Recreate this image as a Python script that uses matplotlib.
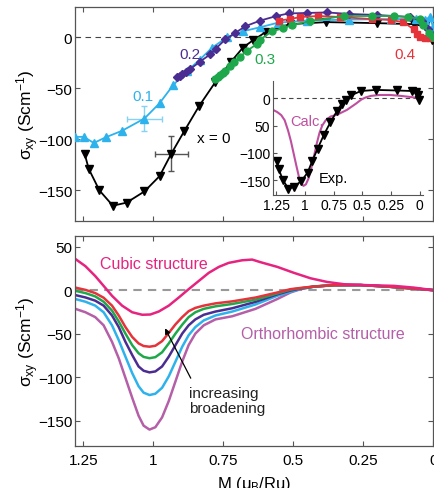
import matplotlib.pyplot as plt

plt.rcParams['font.family'] = ['Liberation Sans', 'DejaVu Sans']
plt.rcParams['mathtext.fontset'] = 'custom'
plt.rcParams['mathtext.rm'] = 'Liberation Sans'
plt.rcParams['mathtext.it'] = 'Liberation Sans:italic'

# ---- top panel: measured sigma_xy vs M for each doping x ----
m_x0 = [1.246, 1.231, 1.193, 1.145, 1.096, 1.032, 0.978, 0.936, 0.890, 0.836, 0.779,
        0.723, 0.68, 0.645, 0.60, 0.513, 0.382, 0.20, 0.07, 0.03, 0.015, 0.005]
s_x0 = [-114, -129, -150, -165, -162, -151, -136, -114, -92, -67, -44,
        -24, -10, -3, 5, 13, 15, 14, 13, 11, 6, -3]

m_x1 = [1.279, 1.249, 1.213, 1.171, 1.112, 1.032, 0.978, 0.930, 0.88, 0.835, 0.79,
        0.737, 0.68, 0.618, 0.554, 0.45, 0.30, 0.15, 0.06, 0.03, 0.012, 0.0]
s_x1 = [-97.5, -97.5, -103.5, -98, -91.5, -79.5, -64.5, -47, -33, -22, -10,
        0, 6, 10, 14.5, 16.5, 17.5, 18, 18, 17, 20, 10]

m_x2 = [0.916, 0.905, 0.898, 0.885, 0.868, 0.835, 0.796, 0.777, 0.743, 0.71, 0.671,
        0.618, 0.56, 0.517, 0.45, 0.38, 0.30, 0.20, 0.082, 0.04, 0.02, 0.005]
s_x2 = [-39, -38, -36, -34, -31, -24, -16.5, -11, -2, 4, 11,
        16.5, 21, 23.5, 24, 24.5, 23, 22, 20, 16, 8, 2]

m_x3 = [0.779, 0.770, 0.761, 0.752, 0.743, 0.725, 0.713, 0.69, 0.665, 0.63, 0.62, 0.576,
        0.535, 0.505, 0.44, 0.32, 0.22, 0.14, 0.089, 0.046, 0.035, 0.015, 0.0]
s_x3 = [-41, -39, -37, -35, -33, -28, -24, -19, -13, -6.5, -2.5, 6,
        9, 12, 16, 21, 21, 21, 20, 18, 12, 4, 0]

m_x4 = [0.552, 0.511, 0.475, 0.41, 0.332, 0.22, 0.15, 0.106, 0.07, 0.058, 0.046, 0.03, 0.01]
s_x4 = [16.5, 18, 20, 21, 20, 18, 17, 15, 8, 3, 0, -1, -1]

# error bars (one point on x=0.1 and x=0): M, sigma, dM, dsigma
err_x1 = (1.032, -79.5, 0.063, 12.5)
err_x0 = (0.936, -114, 0.058, 17)

# ---- bottom panel: calculated curves ----
m_calc = [1.279, 1.243, 1.208, 1.178, 1.148, 1.124, 1.1, 1.076, 1.053, 1.035, 1.014,
          0.993, 0.969, 0.945, 0.921, 0.897, 0.874, 0.85, 0.82, 0.778, 0.718, 0.635,
          0.557, 0.51, 0.474, 0.426, 0.355, 0.259, 0.164, 0.069, 0.0]
s_b1 = [2.9, 0.3, -3.4, -8.7, -17.8, -29.1, -42.4, -53.7, -61.2, -64.2, -65,
        -63.9, -58.6, -49.2, -39.3, -31, -24.2, -20.4, -17.8, -15.2, -12.9, -8.5,
        -2.7, 1.1, 2.5, 4.2, 5.7, 5.8, 4.1, 1.8, 0]
s_b2 = [-0.8, -3.4, -7.2, -13.3, -23.5, -35.9, -49.9, -63.1, -72.5, -76.7, -78.2,
        -77, -71.4, -61.2, -49.9, -39.7, -31, -25.4, -21.5, -18.6, -15.9, -11,
        -3.8, 0.5, 2.2, 4.1, 5.7, 5.8, 4.1, 1.8, 0]
s_b3 = [-5.7, -8.4, -12.1, -17.8, -29.1, -42.4, -59.4, -74.4, -87.7, -92.6, -94.5,
        -93.4, -87.7, -76.4, -63.1, -49.9, -40.4, -33.6, -28.3, -24.6, -20.8, -13.5,
        -4.8, -0.5, 1.8, 4.0, 5.7, 5.8, 4.1, 1.8, 0]
s_b4 = [-10.2, -13.3, -17.8, -25.4, -40.4, -57.4, -76.4, -95.2, -110.4, -117.8, -120.5,
        -119, -112.2, -99, -82, -65, -51.8, -42.4, -34.8, -29.1, -24.6, -16.5,
        -6.5, -1.9, 1.5, 4.0, 5.7, 5.8, 4.1, 1.8, 0]
s_ortho = [-21.5, -25.4, -31, -40.4, -59.4, -78.2, -100.8, -123.5, -144.3, -155.7, -160.2,
           -157.5, -146.2, -127.3, -104.7, -82, -63.1, -49.9, -40.4, -33.6, -30, -21.5,
           -10.2, -2.7, 1.1, 4.1, 5.7, 5.8, 4.1, 1.8, 0]

m_cub = [1.279, 1.243, 1.208, 1.178, 1.148, 1.112, 1.076, 1.04, 1.011, 0.981, 0.945,
         0.909, 0.874, 0.838, 0.802, 0.766, 0.731, 0.683, 0.647, 0.617, 0.557, 0.498,
         0.438, 0.379, 0.319, 0.235, 0.14, 0.069, 0.0]
s_cub = [35.8, 27.5, 16.2, 4.9, -6.5, -17.8, -25.4, -28.3, -28, -24.6, -17.8,
         -8.4, 1.1, 10.5, 19.9, 26.7, 31.3, 34.3, 35.1, 32.1, 26.7, 19.9,
         13.6, 9.4, 6.8, 5.7, 4.9, 2.9, 0]

c_x0, c_x1, c_x2, c_x3, c_x4 = 'black', '#2DB2EC', '#4B2D91', '#1FA84B', '#E5333B'
c_cubic, c_ortho = '#E6237E', '#B45FA8'
spine_c = '#555555'
ylab = r'$\mathregular{\sigma_{xy}}$ (Scm$\mathregular{^{-1}}$)'


def style(ax, size=11):
    ax.tick_params(direction='in', top=True, right=True, length=3.5, width=0.8,
                   color=spine_c, labelsize=size, pad=2)
    for sp in ax.spines.values():
        sp.set_color(spine_c)
        sp.set_linewidth(0.9)


fig = plt.figure(figsize=(4.34, 4.89), dpi=100)
ax1 = fig.add_axes([0.173, 0.546, 0.825, 0.438])
ax2 = fig.add_axes([0.173, 0.086, 0.825, 0.429])
ins = fig.add_axes([0.629, 0.599, 0.346, 0.233])

ticks_m = [1.25, 1, 0.75, 0.5, 0.25, 0]
tick_lbl = ['1.25', '1', '0.75', '0.5', '0.25', '0']

# top panel
ax1.axhline(0, color='#444444', ls=(0, (5, 4)), lw=0.8)
ax1.plot(m_x0, s_x0, '-v', color=c_x0, lw=1.3, ms=6, zorder=3)
ax1.plot(m_x1, s_x1, '-^', color=c_x1, lw=1.3, ms=6, zorder=3)
ax1.plot(m_x2, s_x2, '-D', color=c_x2, lw=1.3, ms=4.5, zorder=4)
ax1.plot(m_x4, s_x4, '-s', color=c_x4, lw=1.3, ms=5, zorder=4)
ax1.plot(m_x3, s_x3, '-o', color=c_x3, lw=1.3, ms=5, zorder=5)
ax1.errorbar(err_x1[0], err_x1[1], xerr=err_x1[2], yerr=err_x1[3], color='#86D2F3',
             lw=1, capsize=2, zorder=2)
ax1.errorbar(err_x0[0], err_x0[1], xerr=err_x0[2], yerr=err_x0[3], color='#555555',
             lw=1, capsize=2, zorder=2)
ax1.text(1.036, -57, '0.1', color=c_x1, fontsize=11, ha='center', va='center')
ax1.text(0.868, -16, '0.2', color=c_x2, fontsize=11, ha='center', va='center')
ax1.text(0.60, -21, '0.3', color=c_x3, fontsize=11, ha='center', va='center')
ax1.text(0.10, -16, '0.4', color=c_x4, fontsize=11, ha='center', va='center')
ax1.text(0.845, -99, 'x = 0', color='black', fontsize=11, ha='left', va='center')
ax1.set_xlim(1.28, 0)
ax1.set_ylim(-180, 30)
ax1.set_xticks(ticks_m)
ax1.set_xticklabels([])
ax1.set_yticks([0, -50, -100, -150])
ax1.set_yticklabels(['0', '\u221250', '\u2212100', '\u2212150'])
ax1.set_ylabel(ylab, fontsize=12.5)
ax1.yaxis.set_label_coords(-0.095, 0.5)
style(ax1)

# inset
ins.set_facecolor('none')
ins.axhline(0, color='#444444', ls=(0, (4, 3)), lw=0.8)
ins.plot(m_calc, s_ortho, '-', color='#BE4F9F', lw=1.5)
ins.plot(m_x0, s_x0, '-v', color='black', lw=1.3, ms=5.5)
ins.text(1.13, -41, 'Calc.', color='#BE4F9F', fontsize=10.5, ha='left', va='center')
ins.text(0.88, -145, 'Exp.', color='black', fontsize=10.5, ha='left', va='center')
ins.set_xlim(1.28, -0.03)
ins.set_ylim(-177, 31)
ins.set_xticks(ticks_m)
ins.set_xticklabels(tick_lbl)
ins.set_yticks([0, -50, -100, -150])
ins.set_yticklabels(['0', '50', '\u2212100', '\u2212150'])
ins.tick_params(direction='in', length=3, width=0.8, color=spine_c, labelsize=10, pad=2)
ins.spines['top'].set_visible(False)
ins.spines['right'].set_visible(False)
for sp in ('left', 'bottom'):
    ins.spines[sp].set_color(spine_c)

# bottom panel
ax2.axhline(0, color='#999999', ls=(0, (4, 3)), lw=1.5)
ax2.plot(m_calc, s_ortho, color=c_ortho, lw=1.8)
ax2.plot(m_calc, s_b4, color=c_x1, lw=1.8)
ax2.plot(m_calc, s_b3, color=c_x2, lw=1.8)
ax2.plot(m_calc, s_b2, color=c_x3, lw=1.8)
ax2.plot(m_calc, s_b1, color=c_x4, lw=1.8)
ax2.plot(m_cub, s_cub, color=c_cubic, lw=1.8)
ax2.text(1.19, 31, 'Cubic structure', color=c_cubic, fontsize=11.5, ha='left', va='center')
ax2.text(0.686, -50, 'Orthorhombic structure', color=c_ortho, fontsize=11.5,
         ha='left', va='center')
ax2.text(0.871, -127, 'increasing\nbroadening', color='#222222', fontsize=11,
         ha='left', va='center', linespacing=1.1)
ax2.annotate('', xy=(0.963, -41), xytext=(0.862, -104),
             arrowprops=dict(arrowstyle='-|>', color='black', lw=0.9, mutation_scale=8))
ax2.set_xlim(1.28, 0)
ax2.set_ylim(-179, 62)
ax2.set_xticks(ticks_m)
ax2.set_xticklabels(tick_lbl)
ax2.set_yticks([50, 0, -50, -100, -150])
ax2.set_yticklabels(['50', '0', '\u221250', '\u2212100', '\u2212150'])
ax2.set_ylabel(ylab, fontsize=12.5)
ax2.yaxis.set_label_coords(-0.095, 0.5)
ax2.set_xlabel(r'M ($\mathregular{\mu_B}$/Ru)', fontsize=12)
ax2.xaxis.set_label_coords(0.5, -0.135)
style(ax2)
ax2.tick_params(axis='x', pad=5)

fig.savefig('out.png', dpi=100)
